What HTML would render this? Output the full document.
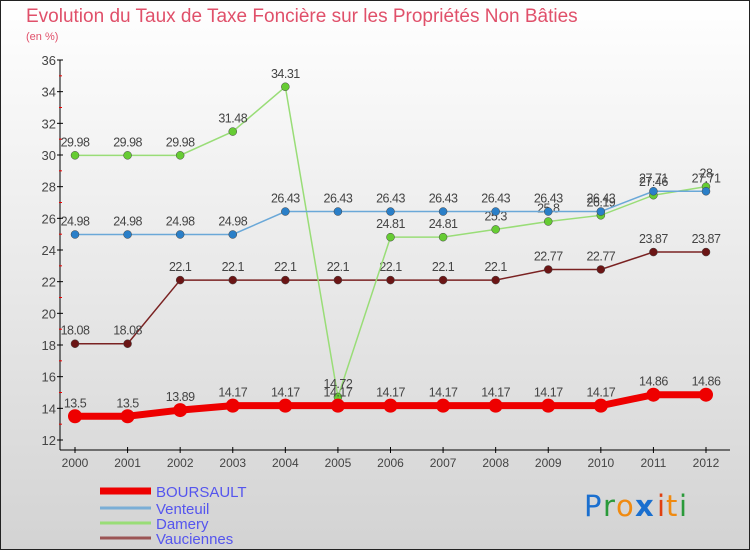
<!DOCTYPE html>
<html><head><meta charset="utf-8"><style>
body{margin:0;width:750px;height:550px;overflow:hidden;font-family:"Liberation Sans","DejaVu Sans",sans-serif}
svg{display:block}
</style></head><body>
<svg id="chart" width="750" height="550" xmlns="http://www.w3.org/2000/svg">
<defs><linearGradient id="bg" x1="0" y1="0" x2="0" y2="1"><stop offset="0" stop-color="#ffffff"/><stop offset="1" stop-color="#d3d3d3"/></linearGradient></defs>
<rect x="0" y="0" width="750" height="550" fill="url(#bg)"/>
<rect x="0.5" y="0.5" width="749" height="549" fill="none" stroke="#222"/>
<text x="26" y="22" font-size="19" fill="#e0506a">Evolution du Taux de Taxe Foncière sur les Propriétés Non Bâties</text>
<text x="26" y="40" font-size="11" fill="#e0506a">(en %)</text>
<g id="axes"></g><g id="series"></g><g id="legend"></g>
<g font-size="29" font-family="'DejaVu Sans',sans-serif">
<text x="584" y="516" fill="#1a6fcf">P</text><text x="603" y="516" fill="#2a9a3a">r</text><text x="616" y="516" fill="#f08a10">o</text>
<text x="635" y="516" fill="#1a6fcf" font-weight="bold">x</text><text x="657" y="516" fill="#e04010">i</text><text x="666" y="516" fill="#f08a10">t</text><text x="679" y="516" fill="#2a9a3a">i</text>
</g>
</svg>
<script>
const years=[2000,2001,2002,2003,2004,2005,2006,2007,2008,2009,2010,2011,2012];
const yTicks=[12,14,16,18,20,22,24,26,28,30,32,34,36];
const boursault=[13.5,13.5,13.89,14.17,14.17,14.17,14.17,14.17,14.17,14.17,14.17,14.86,14.86];
const venteuil=[24.98,24.98,24.98,24.98,26.43,26.43,26.43,26.43,26.43,26.43,26.43,27.71,27.71];
const damery=[29.98,29.98,29.98,31.48,34.31,14.72,24.81,24.81,25.3,25.8,26.19,27.46,28];
const vauciennes=[18.08,18.08,22.1,22.1,22.1,22.1,22.1,22.1,22.1,22.77,22.77,23.87,23.87];
const NS="http://www.w3.org/2000/svg";
const X=i=>75+i*(706-75)/12;
const Y=v=>440-(v-12)*(380/24);
function mk(t,a,p,txt){const e=document.createElementNS(NS,t);for(const k in a)e.setAttribute(k,a[k]);if(txt!==undefined)e.textContent=txt;p.appendChild(e);return e;}
const ax=document.getElementById('axes');
let e=mk('line',{x1:60,y1:60,x2:60,y2:450,stroke:'#000'},ax);


e=mk('line',{x1:60,y1:450,x2:730,y2:450,stroke:'#000'},ax);


yTicks.forEach(v=>{
 mk('line',{x1:57,y1:Y(v),x2:63,y2:Y(v),stroke:'#000'},ax);
 if(v<36)mk('line',{x1:59,y1:Y(v+1),x2:62,y2:Y(v+1),stroke:'#e00'},ax);
 e=mk('text',{x:56,y:Y(v)+5,'font-size':13,'text-anchor':'end',fill:'#444'},ax,v);
 
 
});
years.forEach((y,i)=>{
 mk('line',{x1:X(i),y1:447,x2:X(i),y2:453,stroke:'#000'},ax);
 e=mk('text',{x:X(i),y:467,'font-size':12,'text-anchor':'middle',fill:'#444'},ax,y);
 
 
});
const sg=document.getElementById('series');
const defs=[
 {n:'vauciennes',d:vauciennes,c:'#7a2222',f:'#6b1515',w:1.5,r:4},
 {n:'damery',d:damery,c:'#99dd77',f:'#66cc33',w:1.5,r:4},
 {n:'venteuil',d:venteuil,c:'#6aa8d8',f:'#2a7fc8',w:1.5,r:4},
 {n:'boursault',d:boursault,c:'#ee0000',f:'#ee0000',w:7,r:7}];
defs.forEach(s=>{
 const g=mk('g',{},sg);
 
 
 const pl=mk('polyline',{points:s.d.map((v,i)=>X(i)+','+Y(v)).join(' '),fill:'none',stroke:s.c,'stroke-width':s.w},g);
 
 
 s.d.forEach((v,i)=>{
  const c=mk('circle',{cx:X(i),cy:Y(v),r:s.r,fill:s.f,stroke:s.n=='boursault'?'none':'#444','stroke-width':0.5},g);
  
  
  const t=mk('text',{x:X(i),y:Y(v)-9,'font-size':12.5,'text-anchor':'middle',fill:'#444','letter-spacing':'-0.5'},g,String(v));
  
  
 });
});
const lg=document.getElementById('legend');
[['BOURSAULT','#ee0000',7,491],['Venteuil','#7aaed6',3,508],['Damery','#99dd77',3,523],['Vauciennes','#9b5555',3,538]].forEach(r=>{
 const g=mk('g',{},lg);
 
 
 mk('line',{x1:100,y1:r[3],x2:151,y2:r[3],stroke:r[1],'stroke-width':r[2]},g);
 mk('text',{x:156,y:r[3]+6,'font-size':15,fill:'#5555ee'},g,r[0]);
});
</script>
</body></html>
